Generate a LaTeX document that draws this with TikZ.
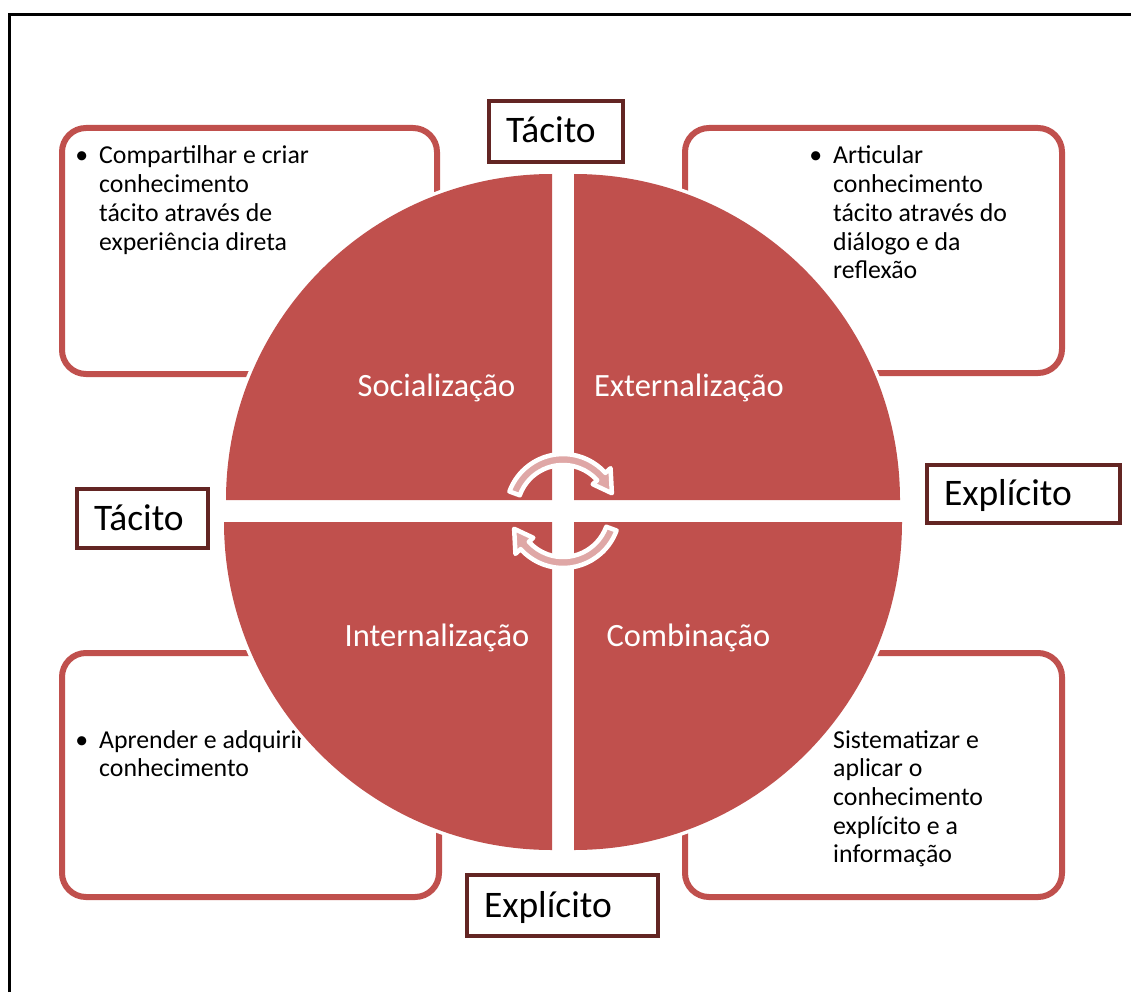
\documentclass[tikz,border=0pt]{standalone}
\usepackage{fontspec}
\setmainfont{Carlito}
\usetikzlibrary{calc}
\definecolor{qred}{HTML}{C0504D}
\definecolor{qdark}{HTML}{632523}
\definecolor{qpink}{HTML}{DFA7A6}
\newcommand\btlines[1]{\vtop{\baselineskip=28.7pt #1}}
\newcommand\bul{\llap{\textbullet\hspace{11pt}}}
\begin{document}
\begin{tikzpicture}[x=1pt,y=1pt,
  roundbox/.style={draw=qred, line width=6pt, rounded corners=24pt, inner sep=0pt},
  lblbox/.style={draw=qdark, line width=4pt, fill=white, inner ysep=0pt, inner xsep=17pt, align=left, text height=27pt, text depth=4pt, font=\fontsize{37.5}{40}\selectfont},
  quad/.style={fill=qred, preaction={draw=white, line width=7pt}},
  qlabel/.style={text=white, font=\fontsize{32.5}{36}\selectfont, inner sep=0pt, anchor=base},
  btext/.style={font=\fontsize{25.8}{28.7}\selectfont, inner sep=0pt, anchor=base west},
  cyc/.style={fill=qpink, draw=white, line width=4.5pt, line join=round}
]
\useasboundingbox (0,0) rectangle (1131,-992);
\fill[white] (0,0) rectangle (1131,-992);
\draw[line width=3pt] (9,-992) -- (9,-15) -- (1131,-15);

% rounded boxes
\node[roundbox, minimum width=375pt, minimum height=246pt] (bTL) at (249.5,-251) {};
\node[roundbox, minimum width=377pt, minimum height=245pt] (bTR) at (873.5,-250.5) {};
\node[roundbox, minimum width=377pt, minimum height=244pt] (bBL) at (250.5,-775) {};
\node[roundbox, minimum width=377pt, minimum height=244pt] (bBR) at (873.5,-775) {};

% box texts
\node[btext] (tTL) at (99,-164) {\btlines{\hbox{\bul Compartilhar e criar}\hbox{conhecimento}\hbox{tácito através de}\hbox{experiência direta}}};
\node[btext] (tTR) at (833,-164) {\btlines{\hbox{\bul Articular}\hbox{conhecimento}\hbox{tácito através do}\hbox{diálogo e da}\hbox{reflexão}}};
\node[btext] (tBL) at (99,-748) {\btlines{\hbox{\bul Aprender e adquirir}\hbox{conhecimento}}};
\node[btext] (tBR) at (833,-748) {\btlines{\hbox{Sistematizar e}\hbox{aplicar o}\hbox{conhecimento}\hbox{explícito e a}\hbox{informação}}};

% quadrants
\path[quad] (552,-500) -- (226,-500) arc[start angle=180,end angle=90,radius=326pt] -- cycle;
\path[quad] (574,-500) -- (574,-174) arc[start angle=90,end angle=0,radius=326pt] -- cycle;
\path[quad] (552,-522) -- (224,-522) arc[start angle=180,end angle=270,radius=328pt] -- cycle;
\path[quad] (574,-522) -- (902,-522) arc[start angle=0,end angle=-90,radius=328pt] -- cycle;

\node[qlabel] (qS) at (436.5,-396) {Socialização};
\node[qlabel] (qE) at (689,-396) {Externalização};
\node[qlabel] (qI) at (437,-646) {Internalização};
\node[qlabel] (qC) at (688.5,-646) {Combinação};

% cycle arrows
\coordinate (C) at (563,-511);
\path[cyc] ($(C)+(160:46pt)$) arc[start angle=160,end angle=42,radius=46pt]
  -- ($(C)+(42:40pt)$) -- ($(C)+(20:52pt)$) -- ($(C)+(42:64pt)$) -- ($(C)+(42:57pt)$)
  arc[start angle=42,end angle=160,radius=57pt] -- cycle;
\path[cyc] ($(C)+(-20:46pt)$) arc[start angle=-20,end angle=-138,radius=46pt]
  -- ($(C)+(-138:40pt)$) -- ($(C)+(-160:52pt)$) -- ($(C)+(-138:64pt)$) -- ($(C)+(-138:57pt)$)
  arc[start angle=-138,end angle=-20,radius=57pt] -- cycle;

% label boxes
\node[lblbox, minimum width=134pt, minimum height=61pt, text width=100pt] (lT) at (556,-131.5) {Tácito};
\node[lblbox, minimum width=131pt, minimum height=59pt, text width=97pt] (lL) at (142.5,-518.5) {Tácito};
\node[lblbox, minimum width=193pt, minimum height=58pt, text width=159pt] (lR) at (1023.5,-494) {Explícito};
\node[lblbox, minimum width=191pt, minimum height=61pt, text width=157pt] (lB) at (562.5,-905.5) {Explícito};
\end{tikzpicture}
\end{document}
